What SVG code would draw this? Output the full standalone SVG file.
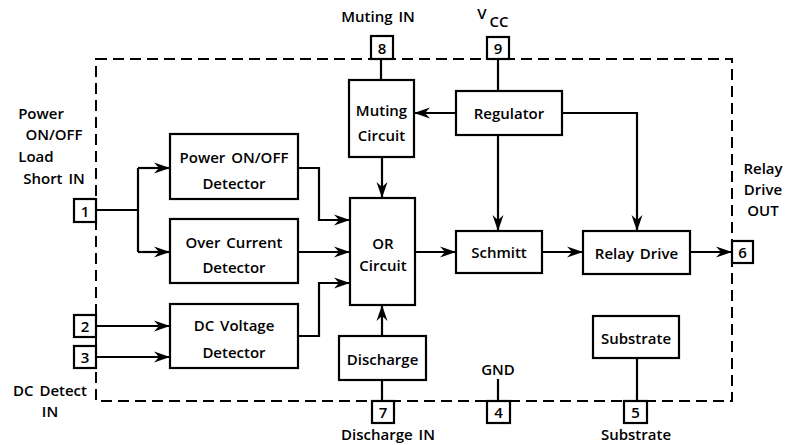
<svg xmlns="http://www.w3.org/2000/svg" width="793" height="445" viewBox="0 0 793 445">
<defs>
<style>
.t{font-family:"Open Sans","Liberation Sans",sans-serif;font-weight:600;font-size:15px;word-spacing:2px;fill:#000;text-anchor:middle;dominant-baseline:central}
.box{fill:#fff;stroke:#000;stroke-width:2.2}
.pin{fill:#fff;stroke:#000;stroke-width:2.2}
.w{fill:none;stroke:#000;stroke-width:2.2}
.a{fill:none;stroke:#000;stroke-width:2.2;marker-end:url(#arr)}
.border{fill:none;stroke:#000;stroke-width:2;stroke-dasharray:11,6}
</style>
<marker id="arr" markerUnits="userSpaceOnUse" markerWidth="17" markerHeight="12" refX="16" refY="6" orient="auto">
<path d="M0,0.5 L16,6 L0,11.5 L5,6 z" fill="#000"/>
</marker>
</defs>
<rect class="border" x="96" y="59" width="636" height="342"/>
<g id="connectors">
<path class="w" d="M381,59 V80"/>
<path class="w" d="M498,59 V91"/>
<path class="a" d="M456,113 H414"/>
<path class="a" d="M562,113 H637 V231"/>
<path class="a" d="M498,135 V231"/>
<path class="a" d="M382,157 V198"/>
<path class="w" d="M96,210 H138 M138,168 V252"/>
<path class="a" d="M138,168 H170"/>
<path class="a" d="M138,252 H170"/>
<path class="a" d="M298,168 H319 V220 H350"/>
<path class="a" d="M298,252 H350"/>
<path class="a" d="M298,336 H319 V283 H350"/>
<path class="a" d="M96,326 H170"/>
<path class="a" d="M96,357 H170"/>
<path class="a" d="M415,252 H456"/>
<path class="a" d="M542,252 H583"/>
<path class="a" d="M690,252 H732"/>
<path class="a" d="M382,336 V305"/>
<path class="w" d="M382,380 V401"/>
<path class="w" d="M498,379 V401"/>
<path class="w" d="M637,358 V401"/>
</g>
<g id="muting"><rect class="box" x="349" y="80" width="65" height="77"/><text class="t" x="381.5" y="110">Muting</text><text class="t" x="381.5" y="135">Circuit</text></g>
<g id="regulator"><rect class="box" x="456" y="91" width="106" height="44"/><text class="t" x="509" y="113">Regulator</text></g>
<g id="poweronoff"><rect class="box" x="170" y="134" width="128" height="65"/><text class="t" x="234" y="157">Power ON/OFF</text><text class="t" x="234" y="183">Detector</text></g>
<g id="overcurrent"><rect class="box" x="170" y="219" width="128" height="64"/><text class="t" x="234" y="242">Over Current</text><text class="t" x="234" y="267">Detector</text></g>
<g id="dcvoltage"><rect class="box" x="170" y="304" width="128" height="64"/><text class="t" x="234" y="325">DC Voltage</text><text class="t" x="234" y="352">Detector</text></g>
<g id="or"><rect class="box" x="350" y="198" width="65" height="107"/><text class="t" x="383" y="243">OR</text><text class="t" x="383" y="265">Circuit</text></g>
<g id="discharge"><rect class="box" x="339" y="336" width="87" height="44"/><text class="t" x="382.5" y="359">Discharge</text></g>
<g id="schmitt"><rect class="box" x="456" y="231" width="86" height="42"/><text class="t" x="499" y="252">Schmitt</text></g>
<g id="relaydrive"><rect class="box" x="583" y="231" width="107" height="43"/><text class="t" x="636.5" y="253">Relay Drive</text></g>
<g id="substrate"><rect class="box" x="593" y="316" width="86" height="42"/><text class="t" x="636" y="338">Substrate</text></g>
<g id="pin1"><rect class="pin" x="74" y="199" width="22" height="23"/><text class="t" x="85" y="211">1</text></g>
<g id="pin2"><rect class="pin" x="74" y="315" width="22" height="22"/><text class="t" x="85" y="326">2</text></g>
<g id="pin3"><rect class="pin" x="74" y="346" width="22" height="22"/><text class="t" x="85" y="357">3</text></g>
<g id="pin4"><rect class="pin" x="487" y="401" width="23" height="22"/><text class="t" x="498.5" y="412">4</text></g>
<g id="pin5"><rect class="pin" x="624" y="401" width="23" height="22"/><text class="t" x="635.5" y="412">5</text></g>
<g id="pin6"><rect class="pin" x="732" y="241" width="21" height="22"/><text class="t" x="742.5" y="252">6</text></g>
<g id="pin7"><rect class="pin" x="372" y="401" width="22" height="22"/><text class="t" x="383" y="412">7</text></g>
<g id="pin8"><rect class="pin" x="371" y="36" width="22" height="23"/><text class="t" x="382" y="47.5">8</text></g>
<g id="pin9"><rect class="pin" x="487" y="37" width="22" height="22"/><text class="t" x="498" y="48">9</text></g>
<g id="labels">
<text class="t" x="378" y="16">Muting IN</text>
<text class="t" x="482" y="13">V</text><text class="t" x="499" y="21">CC</text>
<text class="t" x="41" y="113">Power</text>
<text class="t" x="54" y="134">ON/OFF</text>
<text class="t" x="36" y="156">Load</text>
<text class="t" x="54" y="178">Short IN</text>
<text class="t" x="50" y="390">DC Detect</text>
<text class="t" x="50" y="411">IN</text>
<text class="t" x="763" y="168">Relay</text>
<text class="t" x="763" y="189">Drive</text>
<text class="t" x="763" y="210">OUT</text>
<text class="t" x="498" y="369">GND</text>
<text class="t" x="388" y="434">Discharge IN</text>
<text class="t" x="636" y="434">Substrate</text>
</g>
</svg>
